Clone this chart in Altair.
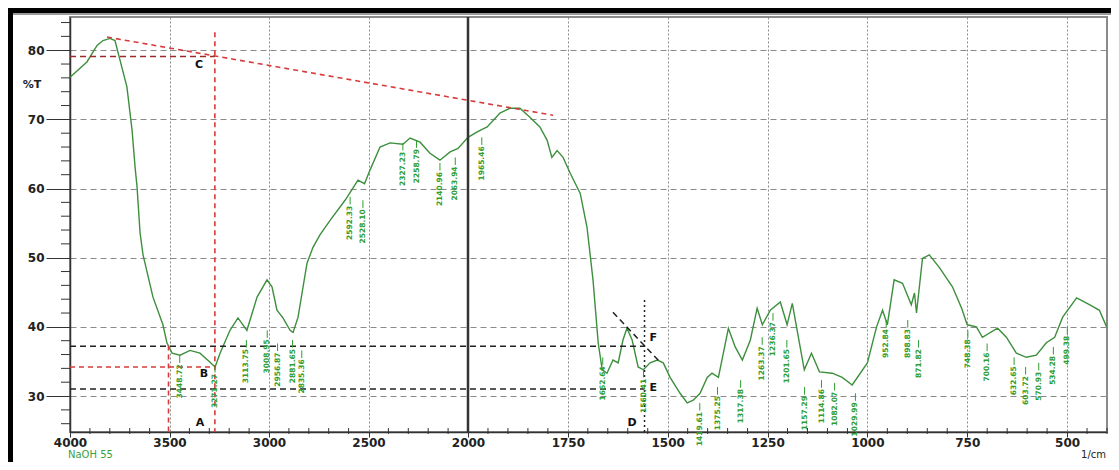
import altair as alt
import pandas as pd

# ---------------- spectrum ----------------
wavenumber = [4000, 3915, 3864, 3834, 3799, 3774, 3749, 3714, 3688, 3673, 3663, 3648,
              3633, 3583, 3533, 3513, 3487, 3447, 3397, 3347, 3296, 3271, 3246, 3196,
              3156, 3111, 3060, 3010, 2985, 2960, 2930, 2894, 2879, 2854, 2809, 2779,
              2744, 2693, 2618, 2580, 2553, 2520, 2492, 2442, 2392, 2327, 2291, 2241,
              2191, 2141, 2090, 2050, 2000, 1977, 1952, 1920, 1895, 1870, 1845, 1820,
              1802, 1790, 1777, 1762, 1744, 1719, 1702, 1687, 1674, 1664, 1652, 1637,
              1624, 1612, 1602, 1589, 1574, 1561, 1544, 1526, 1511, 1494, 1469, 1451,
              1436, 1419, 1401, 1389, 1373, 1348, 1331, 1313, 1293, 1276, 1263, 1243,
              1218, 1201, 1188, 1158, 1140, 1120, 1088, 1063, 1038, 1000, 977, 962,
              950, 933, 912, 890, 882, 877, 862, 845, 820, 787, 764, 750, 727, 712,
              674, 652, 627, 602, 577, 552, 531, 511, 476, 444, 419, 401]
transmittance = [76.1, 78.3, 80.7, 81.4, 81.7, 81.4, 78.6, 74.7, 68.4, 63.1, 60.2, 53.6,
                 50.4, 44.3, 40.3, 37.7, 36.2, 35.9, 36.6, 36.2, 34.9, 34.2, 36.2, 39.5,
                 41.3, 39.5, 44.3, 46.8, 45.8, 42.4, 41.3, 39.5, 39.2, 41.4, 49.2, 51.5,
                 53.3, 55.4, 58.3, 60.0, 61.2, 60.7, 62.7, 66.0, 66.6, 66.4, 67.3, 66.7,
                 65.1, 64.1, 65.3, 65.8, 67.4, 68.2, 68.9, 70.9, 71.6, 71.6, 70.3, 68.9,
                 67.0, 64.5, 65.5, 64.5, 62.2, 59.3, 54.4, 46.8, 37.7, 33.8, 33.3, 35.2,
                 34.8, 38.1, 39.8, 38.1, 34.2, 33.8, 34.8, 35.2, 34.8, 32.7, 30.4, 29.0,
                 29.4, 30.4, 32.7, 33.3, 32.7, 39.8, 37.1, 35.2, 38.1, 42.7, 40.3, 42.4,
                 43.6, 40.3, 43.4, 33.8, 36.2, 33.5, 33.3, 32.7, 31.6, 34.8, 40.0, 42.4,
                 40.3, 46.8, 46.3, 43.2, 44.9, 42.0, 49.9, 50.4, 48.6, 45.8, 42.7, 40.3,
                 40.0, 38.5, 39.8, 38.5, 36.2, 35.6, 35.9, 37.7, 38.5, 41.4, 44.2, 43.2,
                 42.4, 40.0]

# ---------------- peak labels ----------------
peak_wn = [3448.72, 3271.27, 3113.75, 3008.95, 2956.87, 2881.65, 2835.36, 2592.33,
           2528.10, 2327.23, 2258.79, 2140.96, 2063.94, 1965.46, 1662.64, 1560.41,
           1419.61, 1375.25, 1317.38, 1263.37, 1236.37, 1201.65, 1157.29, 1114.86,
           1082.07, 1029.99, 952.84, 898.83, 871.82, 748.38, 700.16, 632.65, 603.72,
           570.93, 534.28, 499.38]
peak_top = [35.9, 34.5, 38.1, 39.5, 37.6, 38.1, 36.6, 58.8, 58.3, 66.6, 67.0, 63.7,
            64.5, 67.4, 35.6, 33.8, 29.0, 31.3, 32.3, 38.5, 42.0, 38.1, 31.3, 32.3,
            31.9, 30.4, 41.0, 41.0, 38.1, 39.5, 37.6, 35.6, 34.2, 34.8, 37.1, 40.0]

# ---------------- annotation lines ----------------
red_x1 = [3814, 3272, 4000, 3505]
red_y1 = [81.9, 82.6, 34.2, 37.3]
red_x2 = [1787, 3272, 3272, 3505]
red_y2 = [70.6, 24.8, 34.2, 24.8]

darkred_x1 = [4000]
darkred_y1 = [79.1]
darkred_x2 = [3272]
darkred_y2 = [79.1]

blk_x1 = [4000, 4000, 1637]
blk_y1 = [37.2, 31.0, 42.1]
blk_x2 = [1558, 1558, 1519]
blk_y2 = [37.2, 31.0, 34.9]

vline_x = [1558]
vline_y1 = [43.9]
vline_y2 = [24.8]

letters = ["A", "B", "C", "D", "E", "F"]
letter_x = [3347, 3327, 3352, 1589, 1536, 1536]
letter_y = [26.1, 33.2, 77.8, 26.1, 31.2, 38.4]

# ---------------- ticks ----------------
x_major = [4000, 3500, 3000, 2500, 2000, 1750, 1500, 1250, 1000, 750, 500]
x_minor = [3900, 3800, 3700, 3600, 3400, 3300, 3200, 3100, 2900, 2800, 2700, 2600,
           2400, 2300, 2200, 2100, 1950, 1900, 1850, 1800, 1700, 1650, 1600, 1550,
           1450, 1400, 1350, 1300, 1200, 1150, 1100, 1050, 950, 900, 850, 800,
           700, 650, 600, 550, 450, 400]
y_major = [30, 40, 50, 60, 70, 80]
y_minor = [26, 28, 32, 34, 36, 38, 42, 44, 46, 48, 52, 54, 56, 58, 62, 64, 66, 68,
           72, 74, 76, 78, 82, 84]

W, H = 1037, 415
GREEN = "#3d8f3d"
LABEL_GREEN = "#2f9e2f"

xscale = alt.Scale(domain=[4000, 2000, 400], range=[0, 398, W], nice=False, zero=False)
yscale = alt.Scale(domain=[24.8, 84.8], nice=False, zero=False)

spec = pd.DataFrame({"wn": wavenumber, "t": transmittance})
peaks = pd.DataFrame({"wn": peak_wn, "top": peak_top,
                      "label": [f"{v:.2f}" for v in peak_wn]})
peaks["tick_end"] = peaks["top"] - 1.1
peaks["text_y"] = peaks["top"] - 1.3
red = pd.DataFrame({"x": red_x1, "y": red_y1, "x2": red_x2, "y2": red_y2})
dred = pd.DataFrame({"x": darkred_x1, "y": darkred_y1, "x2": darkred_x2, "y2": darkred_y2})
blk = pd.DataFrame({"x": blk_x1, "y": blk_y1, "x2": blk_x2, "y2": blk_y2})
vl = pd.DataFrame({"x": vline_x, "y": vline_y1, "y2": vline_y2})
let = pd.DataFrame({"txt": letters, "x": letter_x, "y": letter_y})
xmin = pd.DataFrame({"x": x_minor})
ymin = pd.DataFrame({"y": y_minor})


def X(f):
    return alt.X(f, type="quantitative", scale=xscale, title=None)


def Y(f):
    return alt.Y(f, type="quantitative", scale=yscale, title=None)


line = alt.Chart(spec).mark_line(color=GREEN, strokeWidth=1.4).encode(
    x=alt.X("wn:Q", scale=xscale, title=None,
            axis=alt.Axis(values=x_major, format="d", tickSize=5, labelPadding=0,
                          grid=True, gridDash=[2, 2], gridColor="#8a8a8a",
                          labelFlush=False, domainWidth=1.5)),
    y=alt.Y("t:Q", scale=yscale, title=None,
            axis=alt.Axis(values=y_major, format="d", tickSize=24, labelPadding=2,
                          grid=True, gridDash=[6, 4], gridColor="#8a8a8a",
                          domainWidth=1.5)),
)

xminor = alt.Chart(xmin).mark_rule(color="#333", strokeWidth=1).encode(
    x=X("x"), y=alt.value(H - 4), y2=alt.value(H + 2))
yminor = alt.Chart(ymin).mark_rule(color="#333", strokeWidth=1).encode(
    y=Y("y"), x=alt.value(-9), x2=alt.value(0))

break_line = alt.Chart(pd.DataFrame({"x": [2000]})).mark_rule(
    color="#333", strokeWidth=2.5).encode(x=X("x"), y=alt.value(0), y2=alt.value(H))

red_lines = alt.Chart(red).mark_rule(color="#d83a3a", strokeWidth=1.6,
                                     strokeDash=[5, 4]).encode(
    x=X("x"), y=Y("y"), x2="x2", y2="y2")
dred_lines = alt.Chart(dred).mark_rule(color="#9b2a2a", strokeWidth=1.6,
                                       strokeDash=[6, 4]).encode(
    x=X("x"), y=Y("y"), x2="x2", y2="y2")
blk_lines = alt.Chart(blk).mark_rule(color="#222", strokeWidth=1.5,
                                     strokeDash=[6, 4]).encode(
    x=X("x"), y=Y("y"), x2="x2", y2="y2")
v_line = alt.Chart(vl).mark_rule(color="#222", strokeWidth=1.5,
                                 strokeDash=[2, 3]).encode(
    x=X("x"), y=Y("y"), y2="y2")

letter_txt = alt.Chart(let).mark_text(font="DejaVu Sans", fontWeight="bold",
                                      fontSize=11, color="#111").encode(
    x=X("x"), y=Y("y"), text="txt")

peak_ticks = alt.Chart(peaks).mark_rule(color=LABEL_GREEN, strokeWidth=1).encode(
    x=X("wn"), y=Y("top"), y2="tick_end")
peak_txt = alt.Chart(peaks).mark_text(font="DejaVu Sans", fontSize=7.5, angle=270,
                                      align="right", baseline="middle",
                                      fontWeight="bold",
                                      color=LABEL_GREEN).encode(
    x=X("wn"), y=Y("text_y"), text="label")

pct = alt.Chart(pd.DataFrame({"t": ["%T"], "y": [75]})).mark_text(
    font="DejaVu Sans", fontWeight="bold", fontSize=11, color="#222").encode(
    x=alt.value(-38), y=Y("y"), text="t")
naoh = alt.Chart(pd.DataFrame({"t": ["NaOH 55"]})).mark_text(
    font="DejaVu Sans", fontSize=10, color="#3aa03a", align="left").encode(
    x=alt.value(-2), y=alt.value(438), text="t")
unit = alt.Chart(pd.DataFrame({"t": ["1/cm"]})).mark_text(
    font="DejaVu Sans", fontSize=10, color="#222", align="right").encode(
    x=alt.value(1036), y=alt.value(438), text="t")

frame_top = alt.Chart(pd.DataFrame({"a": [0]})).mark_rule(
    color="#000", strokeWidth=6).encode(x=alt.value(-62), x2=alt.value(1060), y=alt.value(-7))
frame_top2 = alt.Chart(pd.DataFrame({"a": [0]})).mark_rule(
    color="#9a9a9a", strokeWidth=2).encode(x=alt.value(-57), x2=alt.value(1060), y=alt.value(-3))
frame_left = alt.Chart(pd.DataFrame({"a": [0]})).mark_rule(
    color="#000", strokeWidth=6).encode(x=alt.value(-60), y=alt.value(-10), y2=alt.value(460))

chart = alt.layer(
    line, xminor, yminor, break_line, red_lines, dred_lines, blk_lines, v_line,
    peak_ticks, peak_txt, letter_txt, pct, naoh, unit,
    frame_top, frame_top2, frame_left,
).properties(
    width=W, height=H,
    padding={"left": 62, "top": 9, "right": 4, "bottom": 30},
    autosize=alt.AutoSizeParams(type="none"),
    background="white",
).configure_view(
    stroke="#8a8a8a", strokeWidth=2,
).configure_axis(
    labelFont="DejaVu Sans", labelFontWeight="bold", labelFontSize=12,
    labelColor="#222", domainColor="#333", tickColor="#333",
)

chart.save("out.html", embed_options={"renderer": "svg", "actions": False})
